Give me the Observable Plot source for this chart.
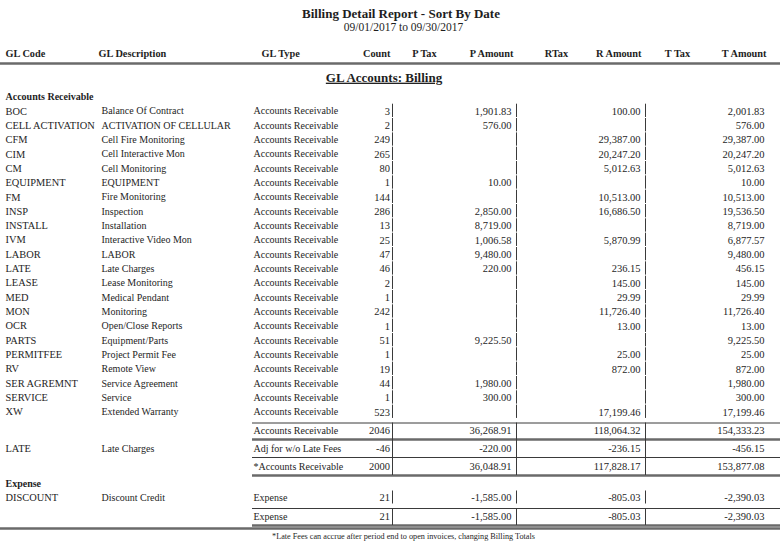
<!DOCTYPE html>
<html><head><meta charset="utf-8">
<script src="https://cdn.jsdelivr.net/npm/d3@7"></script>
<script src="https://cdn.jsdelivr.net/npm/@observablehq/plot@0.6"></script>
<style>html,body{margin:0;padding:0;background:#fff}#chart svg{display:block}</style>
</head><body><div id="chart"></div>
<script>
// ---------------- DATA ----------------
const title = "Billing Detail Report - Sort By Date";
const subtitle = "09/01/2017 to 09/30/2017";
const sectionTitle = "GL Accounts: Billing";
const footnote = "*Late Fees can accrue after period end to open invoices, changing Billing Totals";
const columnHeaders = ["GL Code","GL Description","GL Type","Count","P Tax","P Amount","RTax","R Amount","T Tax","T Amount"];
const groupNames = ["Accounts Receivable","Expense"];

const arCodes = ["BOC","CELL ACTIVATION","CFM","CIM","CM","EQUIPMENT","FM","INSP","INSTALL","IVM","LABOR","LATE","LEASE","MED","MON","OCR","PARTS","PERMITFEE","RV","SER AGREMNT","SERVICE","XW"];
const arDescriptions = ["Balance Of Contract","ACTIVATION OF CELLULAR","Cell Fire Monitoring","Cell Interactive Mon","Cell Monitoring","EQUIPMENT","Fire Monitoring","Inspection","Installation","Interactive Video Mon","LABOR","Late Charges","Lease Monitoring","Medical Pendant","Monitoring","Open/Close Reports","Equipment/Parts","Project Permit Fee","Remote View","Service Agreement","Service","Extended Warranty"];
const arTypes = ["Accounts Receivable","Accounts Receivable","Accounts Receivable","Accounts Receivable","Accounts Receivable","Accounts Receivable","Accounts Receivable","Accounts Receivable","Accounts Receivable","Accounts Receivable","Accounts Receivable","Accounts Receivable","Accounts Receivable","Accounts Receivable","Accounts Receivable","Accounts Receivable","Accounts Receivable","Accounts Receivable","Accounts Receivable","Accounts Receivable","Accounts Receivable","Accounts Receivable"];
const arCounts = [3,2,249,265,80,1,144,286,13,25,47,46,2,1,242,1,51,1,19,44,1,523];
const arPAmounts = [1901.83,576.00,null,null,null,10.00,null,2850.00,8719.00,1006.58,9480.00,220.00,null,null,null,null,9225.50,null,null,1980.00,300.00,null];
const arRAmounts = [100.00,null,29387.00,20247.20,5012.63,null,10513.00,16686.50,null,5870.99,null,236.15,145.00,29.99,11726.40,13.00,null,25.00,872.00,null,null,17199.46];
const arTAmounts = [2001.83,576.00,29387.00,20247.20,5012.63,10.00,10513.00,19536.50,8719.00,6877.57,9480.00,456.15,145.00,29.99,11726.40,13.00,9225.50,25.00,872.00,1980.00,300.00,17199.46];

const arTotalCodes = ["","LATE",""];
const arTotalDescriptions = ["","Late Charges",""];
const arTotalLabels = ["Accounts Receivable","Adj for w/o Late Fees","*Accounts Receivable"];
const arTotalCounts = [2046,-46,2000];
const arTotalP = [36268.91,-220.00,36048.91];
const arTotalR = [118064.32,-236.15,117828.17];
const arTotalT = [154333.23,-456.15,153877.08];

const expCodes = ["DISCOUNT"];
const expDescriptions = ["Discount Credit"];
const expTypes = ["Expense"];
const expCounts = [21];
const expPAmounts = [-1585.00];
const expRAmounts = [-805.03];
const expTAmounts = [-2390.03];

const expTotalLabels = ["Expense"];
const expTotalCounts = [21];
const expTotalP = [-1585.00];
const expTotalR = [-805.03];
const expTotalT = [-2390.03];

// ---------------- LAYOUT ----------------
const W = 780, H = 544;
const FONT = "'Liberation Serif', 'DejaVu Serif', serif";
const col = {code: 5, desc: 101, type: 253, count: 389.5, p: 511, r: 640, t: 764};
const vLines = [392, 516, 645];
const headerPos = [
  {x: 5, a: "start"}, {x: 98, a: "start"}, {x: 261, a: "start"}, {x: 390, a: "end"},
  {x: 424, a: "middle"}, {x: 513, a: "end"}, {x: 556, a: "middle"}, {x: 641, a: "end"},
  {x: 677, a: "middle"}, {x: 766, a: "end"}
];
const loc = d3.formatLocale({decimal: ".", thousands: ",", grouping: [3], currency: ["$", ""], minus: "-"});
const money = loc.format(",.2f");
const fm = v => v == null ? "" : money(v);

const rowY0 = 110.7, rowStep = 14.33;
const codeCells = [], startCells = [], endCells = [], boldStart = [], vsegs = [], hlines = [];

function addRow(y, code, desc, type, count, p, r, t, segTop, segBot) {
  if (code) codeCells.push({x: col.code, y, text: code});
  if (desc) startCells.push({x: col.desc, y, text: desc});
  startCells.push({x: col.type, y, text: type});
  endCells.push({x: col.count, y, text: String(count)});
  endCells.push({x: col.p, y, text: fm(p)});
  endCells.push({x: col.r, y, text: fm(r)});
  endCells.push({x: col.t, y, text: fm(t)});
  for (const x of vLines) vsegs.push({x, y1: segTop, y2: segBot});
}

// group 1
boldStart.push({x: col.code, y: 96.7, text: groupNames[0]});
arCodes.forEach((c, i) => {
  const y = rowY0 + i * rowStep;
  addRow(y, c, arDescriptions[i], arTypes[i], arCounts[i], arPAmounts[i], arRAmounts[i], arTAmounts[i], y - 7, y + 6.3);
});
// totals box
const totY = [430.5, 448, 466];
const totLines = [422.5, 439, 457, 475];
arTotalLabels.forEach((lab, i) => {
  addRow(totY[i], arTotalCodes[i], arTotalDescriptions[i], lab, arTotalCounts[i], arTotalP[i], arTotalR[i], arTotalT[i], totLines[i], totLines[i + 1]);
});
hlines.push({y: totLines[0], x1: 252, x2: W, k: "thin"});
hlines.push({y: totLines[1], x1: 252, x2: W, k: "thick"});
hlines.push({y: totLines[2], x1: 252, x2: W, k: "thin"});
hlines.push({y: totLines[3], x1: 252, x2: W, k: "thick"});

// group 2
boldStart.push({x: col.code, y: 483, text: groupNames[1]});
expCodes.forEach((c, i) => {
  const y = 497.5 + i * rowStep;
  addRow(y, c, expDescriptions[i], expTypes[i], expCounts[i], expPAmounts[i], expRAmounts[i], expTAmounts[i], y - 7, y + 6);
});
const expLines = [508, 525];
expTotalLabels.forEach((lab, i) => {
  addRow(516.5, "", "", lab, expTotalCounts[i], expTotalP[i], expTotalR[i], expTotalT[i], expLines[0], expLines[1]);
});
hlines.push({y: expLines[0], x1: 252, x2: W, k: "thin"});
hlines.push({y: expLines[1], x1: 252, x2: W, k: "thick"});
hlines.push({y: 528, x1: 0, x2: W, k: "thick"});
hlines.push({y: 63, x1: 0, x2: W, k: "thick"});

const headerCells = columnHeaders.map((h, i) => ({x: headerPos[i].x, y: 53.5, text: h, a: headerPos[i].a}));

const ink = "#1e1e1e";
const plot = Plot.plot({
  width: W, height: H,
  margin: 0,
  x: {domain: [0, W], range: [0, W], axis: null},
  y: {domain: [0, H], range: [0, H], axis: null},
  style: {fontFamily: FONT, background: "#fff", color: ink},
  marks: [
    Plot.ruleY(hlines.filter(d => d.k === "thick"), {y: "y", x1: "x1", x2: "x2", stroke: "#6a6a6a", strokeWidth: 2.6}),
    Plot.ruleY(hlines.filter(d => d.k === "thin"), {y: "y", x1: "x1", x2: "x2", stroke: "#3a3a3a", strokeWidth: 1}),
    Plot.ruleX(vsegs, {x: "x", y1: "y1", y2: "y2", stroke: "#3a3a3a", strokeWidth: 1}),
    Plot.text([title], {x: () => 400.5, y: () => 13.5, text: d => d, fontSize: 13, fontWeight: "bold", fill: ink}),
    Plot.text([subtitle], {x: () => 403, y: () => 26.5, text: d => d, fontSize: 11.5, fill: ink}),
    Plot.text([sectionTitle], {x: () => 383.5, y: () => 77, text: d => d, fontSize: 13, fontWeight: "bold", fill: ink}),
    ...["start", "middle", "end"].map(a => Plot.text(headerCells.filter(d => d.a === a), {x: "x", y: "y", text: "text", textAnchor: a, fontSize: 10.3, fontWeight: "bold", fill: ink})),
    Plot.text(boldStart, {x: "x", y: "y", text: "text", textAnchor: "start", fontSize: 10, fontWeight: "bold", fill: ink}),
    Plot.text(codeCells, {x: "x", y: "y", text: "text", textAnchor: "start", fontSize: 10.4, fill: ink}),
    Plot.text(startCells, {x: "x", y: "y", text: "text", textAnchor: "start", fontSize: 10, fill: ink}),
    Plot.text(endCells, {x: "x", y: "y", text: "text", textAnchor: "end", fontSize: 10.5, fill: ink}),
    Plot.text([footnote], {x: () => 403, y: () => 536, text: d => d, fontSize: 8.2, fill: ink})
  ]
});
d3.select(plot).selectAll("text").filter(function() { return this.textContent === sectionTitle; })
  .attr("text-decoration", "underline");
document.getElementById("chart").appendChild(plot);
</script>
</body></html>
